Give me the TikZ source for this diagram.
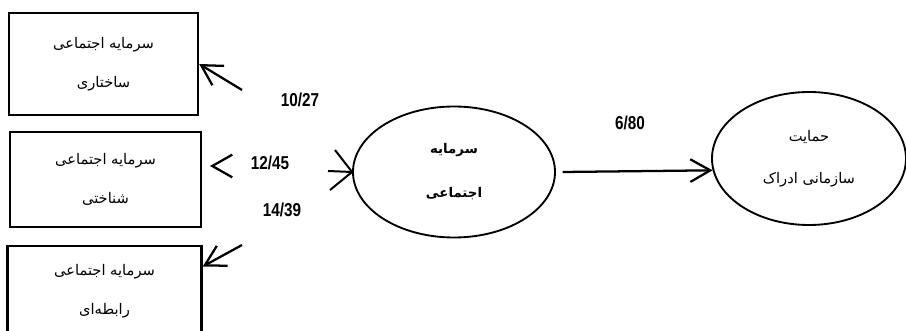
\documentclass[tikz,border=0pt]{standalone}
\usepackage{fontspec}
\usetikzlibrary{arrows.meta,shapes.geometric}
\TeXXeTstate=1
\newfontfamily\farsi[Script=Arabic]{DejaVu Sans}
\newfontfamily\numfont[FakeStretch=0.82]{Liberation Sans}

\begin{document}
\begin{tikzpicture}[
    x=0.75pt, y=-0.75pt,
    box/.style={draw, line width=1.8pt, inner sep=0pt, align=center,
        font=\farsi\fontsize{11}{29}\selectfont},
    oval/.style={ellipse, draw, line width=1.4pt, inner sep=0pt, align=center},
    line/.style={line width=1.7pt, -{Straight Barb[length=15pt, width=17pt]}},
    stub/.style={line width=1.5pt},
    num/.style={font=\numfont\bfseries\fontsize{14}{16}\selectfont}
]
    \useasboundingbox (0,0) rectangle (906,331);
    \clip (0,0) rectangle (906,331);

    % Три прямоугольника слева
    \node[box, minimum width=141.75pt, minimum height=76.5pt] (sakhtari) at (103.5,64)
        {\beginR سرمایه اجتماعی\endR\\\beginR ساختاری\endR};
    \node[box, minimum width=143.25pt, minimum height=71.25pt] (shenakhti) at (105.5,179.5)
        {\beginR سرمایه اجتماعی\endR\\\beginR شناختی\endR};
    \node[box, minimum width=145.5pt, minimum height=67.5pt] (rabetei) at (104.5,291)
        {\beginR سرمایه اجتماعی\endR\\\beginR رابطه‌ای\endR};

    % Центральный эллипс
    \node[oval, minimum width=151.5pt, minimum height=98.25pt,
        font=\farsi\bfseries\fontsize{10}{33}\selectfont] (sarmaye) at (454,172)
        {\beginR سرمایه\endR\\\beginR اجتماعی\endR};

    % Правый эллипс
    \node[oval, minimum width=145.5pt, minimum height=99.75pt,
        font=\farsi\fontsize{11}{31.5}\selectfont] (hemayat) at (809,158.5)
        {\beginR حمایت\endR\\\beginR سازمانی ادراک\endR};

    % Стрелки к прямоугольникам
    \coordinate (t1) at (242,90);
    \coordinate (t2) at (211,166);
    \coordinate (t3) at (242,245);
    \draw[line] (t1) -- (sakhtari.east);
    \draw[line] (t2) -- ++(-1,0);
    \draw[line] (t3) -- (rabetei.14);

    % Обрывки линий у эллипса
    \coordinate (f1) at (335,150);
    \coordinate (f2) at (328,171);
    \coordinate (f3) at (330,190);
    \draw[stub] (f1) -- (sarmaye.west);
    \draw[stub] (f2) -- (sarmaye.west);
    \draw[stub] (f3) -- (sarmaye.west);

    % Стрелка между эллипсами
    \draw[line] ([xshift=5pt]sarmaye.east) -- (hemayat.187);

    % Коэффициенты
    \node[num] (k1) at (300,100) {10/27};
    \node[num] (k2) at (270,163) {12/45};
    \node[num] (k3) at (282,210) {14/39};
    \node[num] (k4) at (630,123) {6/80};
\end{tikzpicture}
\end{document}
